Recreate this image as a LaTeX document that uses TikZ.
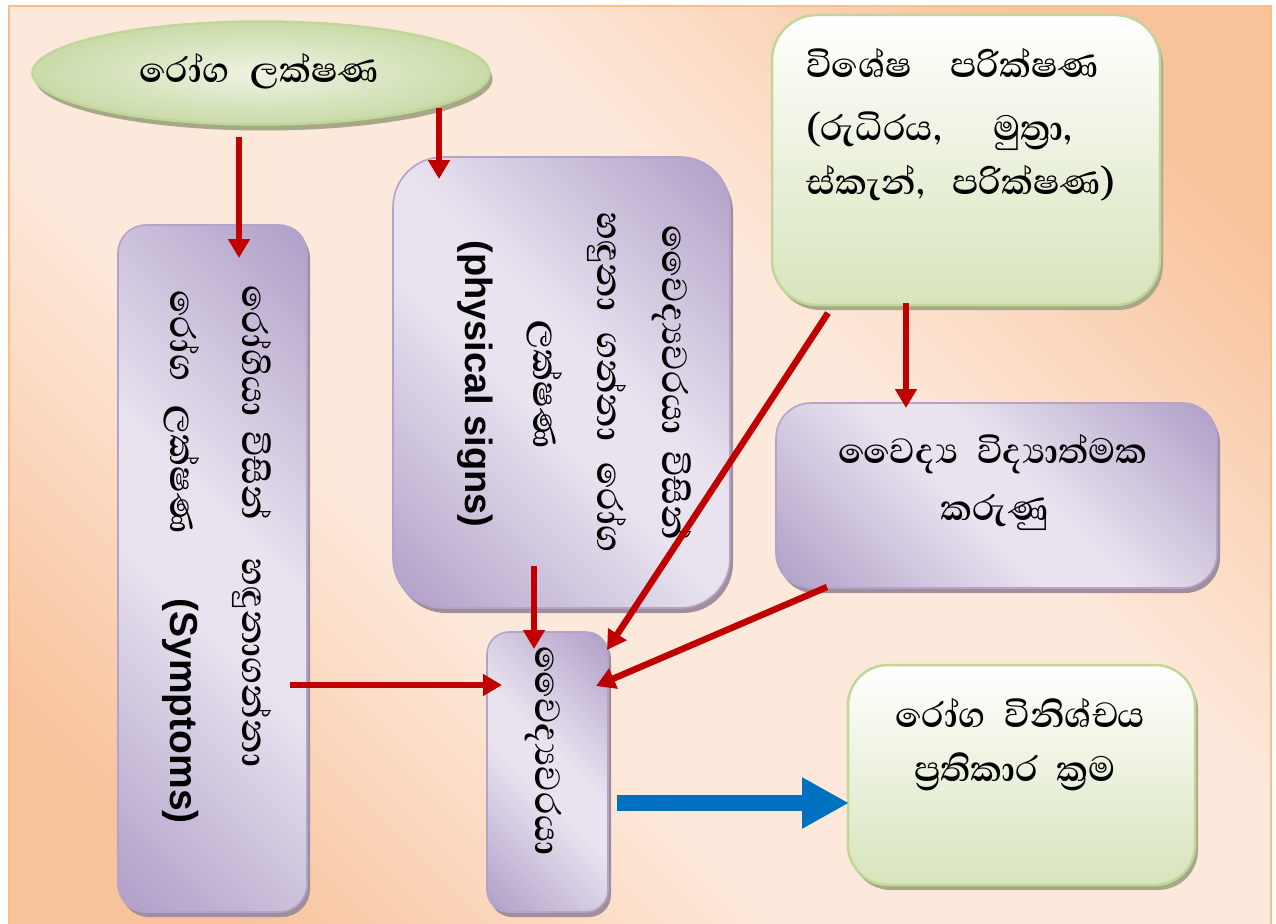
\documentclass[tikz,border=0pt]{standalone}
\usepackage{fontspec}
\newfontfamily\si[Script=Sinhala]{Abhaya Libre}
\newfontfamily\ar{Liberation Sans}
\usetikzlibrary{shapes.geometric,arrows.meta,shadows}
\definecolor{pdark}{HTML}{B2A1C9}
\definecolor{plight}{HTML}{E8E3EF}
\definecolor{pedge}{HTML}{B3A3CB}
\definecolor{pshadow}{HTML}{A08E9A}
\definecolor{gdark}{HTML}{D7E4BB}
\definecolor{gedge}{HTML}{C2D69A}
\definecolor{gshadow}{HTML}{A6A888}
\definecolor{bgdark}{HTML}{F8C29A}
\definecolor{bglight}{HTML}{FDE9DB}
\definecolor{frameor}{HTML}{FBBD8A}
\definecolor{redarr}{HTML}{C00000}
\definecolor{bluearr}{HTML}{0070C0}
\definecolor{ellin}{HTML}{EEF3E3}
\definecolor{ellout}{HTML}{C9DBA8}
\pgfdeclarehorizontalshading{purpdiag}{100bp}{color(0bp)=(pdark); color(16bp)=(pdark); color(45bp)=(plight); color(55bp)=(plight); color(84bp)=(pdark); color(100bp)=(pdark)}
\pgfdeclarehorizontalshading{bgdiag}{100bp}{color(0bp)=(bgdark); color(22bp)=(bgdark); color(40bp)=(bglight); color(60bp)=(bglight); color(78bp)=(bgdark); color(100bp)=(bgdark)}
\tikzset{
  purpbox/.style={rectangle, draw=pedge, line width=1.6pt, shading=purpdiag, shading angle=45,
    general shadow={fill=pshadow, shadow xshift=3pt, shadow yshift=-5pt}, inner sep=0pt},
  greenbox/.style={rectangle, draw=gedge, line width=2.5pt, top color=white, bottom color=gdark,
    general shadow={fill=gshadow, shadow xshift=3pt, shadow yshift=-5pt}, inner sep=0pt},
  sitext/.style={font=\si\bfseries\fontsize{45}{54}\selectfont, text=black, inner sep=0pt},
  vtext/.style={sitext, rotate=-90},
  entext/.style={font=\ar\bfseries\fontsize{38}{44}\selectfont},
  redarrow/.style={draw=redarr, line width=6.5pt, -{Triangle[width=21pt,length=19pt]}},
  bluearrow/.style={draw=bluearr, line width=16pt, -{Triangle[width=48pt,length=47pt]}},
}
\begin{document}
\begin{tikzpicture}[x=1pt,y=-1pt]
\useasboundingbox (0,0) rectangle (1276,923);
\fill[white] (0,0) rectangle (1276,923);
\path[shading=bgdiag, shading angle=45, draw=frameor, line width=2.5pt] (9,6) rectangle (1271,945);

% boxes
\node[ellipse, draw=gedge, line width=2.5pt, inner color=ellin, outer color=ellout,
  general shadow={fill=gshadow, shadow xshift=3pt, shadow yshift=-6pt},
  minimum width=457pt, minimum height=103pt, inner sep=0pt] (ell) at (261,73) {};
\node[purpbox, rounded corners=28pt, minimum width=189pt, minimum height=687pt] (leftbox) at (212.5,568.5) {};
\node[purpbox, rounded corners=50pt, minimum width=337pt, minimum height=451pt] (physbox) at (561.5,382.5) {};
\node[purpbox, rounded corners=22pt, minimum width=121pt, minimum height=280pt] (docbox) at (547.5,772) {};
\node[greenbox, rounded corners=45pt, minimum width=388pt, minimum height=290pt] (testbox) at (966,160) {};
\node[purpbox, rounded corners=35pt, minimum width=441pt, minimum height=185pt] (factbox) at (996.5,495.5) {};
\node[greenbox, rounded corners=40pt, minimum width=347pt, minimum height=220pt] (diagbox) at (1021.5,775) {};

% texts
\node[sitext, anchor=base] (elltext) at (259,83) {රෝග\hspace{12pt} ලක්ෂණ};

\node[sitext, anchor=base west] (tw1) at (806,78) {විශේෂ};
\node[sitext, anchor=base west] (tw2) at (950,78) {පරික්ෂණ};
\node[sitext, anchor=base west] (tw3) at (806,140) {(රුධිරය,};
\node[sitext, anchor=base west] (tw4) at (993,140) {මුත්^^^^200dරා,};
\node[sitext, anchor=base west] (tw5) at (806,194) {ස්කැන්,};
\node[sitext, anchor=base west] (tw6) at (952,194) {පරික්ෂණ)};

\node[vtext, anchor=base west] (lt1) at (242,285) {රෝගියා\hspace{6pt} විසින්\hspace{30pt} හඳුනාගන්නා};
\node[vtext, anchor=base west] (lt2) at (170,290) {රෝග\hspace{16pt} ලක්ෂණ\hspace{56pt} {\ar\fontsize{39}{44}\selectfont(Symptoms)}};

\node[vtext, anchor=base] (pt1) at (662,383) {වෛද්^^^^200dයවරයා\hspace{8pt} විසින්};
\node[vtext, anchor=base] (pt2) at (597,383) {හඳුනා\hspace{12pt} ගන්නා\hspace{12pt} රෝග};
\node[vtext, anchor=base] (pt3) at (533,385) {ලක්ෂණ};
\node[entext, rotate=-90, anchor=base, inner sep=0pt] (pt4) at (465,384) {(physical signs)};

\node[vtext, anchor=base] (doctext) at (535,751) {වෛද්^^^^200dයවරයා};

\node[sitext, anchor=base] (ft1) at (993,463) {වෛද්^^^^200dය\hspace{10pt} විද්^^^^200dයාත්මක};
\node[sitext, anchor=base] (ft2) at (995,520) {කරුණු};

\node[sitext, anchor=base] (dt1) at (1020,727) {රෝග\hspace{10pt} විනිශ්චය};
\node[sitext, anchor=base] (dt2) at (1015,781) {ප්^^^^200dරතිකාර\hspace{10pt} ක්^^^^200dරම};

% connector end points
\coordinate (e1s) at (239,137);  \coordinate (e1e) at (239,258);
\coordinate (e2s) at (439,108);  \coordinate (e2e) at (439,179);
\coordinate (t1s) at (906,303);  \coordinate (t1e) at (906,408);
\coordinate (l1s) at (290,685);  \coordinate (l1e) at (502,685);
\coordinate (p1s) at (534,566);  \coordinate (p1e) at (534,649);
\coordinate (t2s) at (828,313);  \coordinate (t2e) at (607,650);
\coordinate (f1s) at (827,587);  \coordinate (f1e) at (596,686);
\coordinate (d1s) at (617,803);  \coordinate (d1e) at (849,803);

\draw[redarrow] (e1s) -- (e1e);
\draw[redarrow] (e2s) -- (e2e);
\draw[redarrow] (t1s) -- (t1e);
\draw[redarrow] (l1s) -- (l1e);
\draw[redarrow] (p1s) -- (p1e);
\draw[redarrow] (t2s) -- (t2e);
\draw[redarrow] (f1s) -- (f1e);
\draw[bluearrow] (d1s) -- (d1e);
\end{tikzpicture}
\end{document}
